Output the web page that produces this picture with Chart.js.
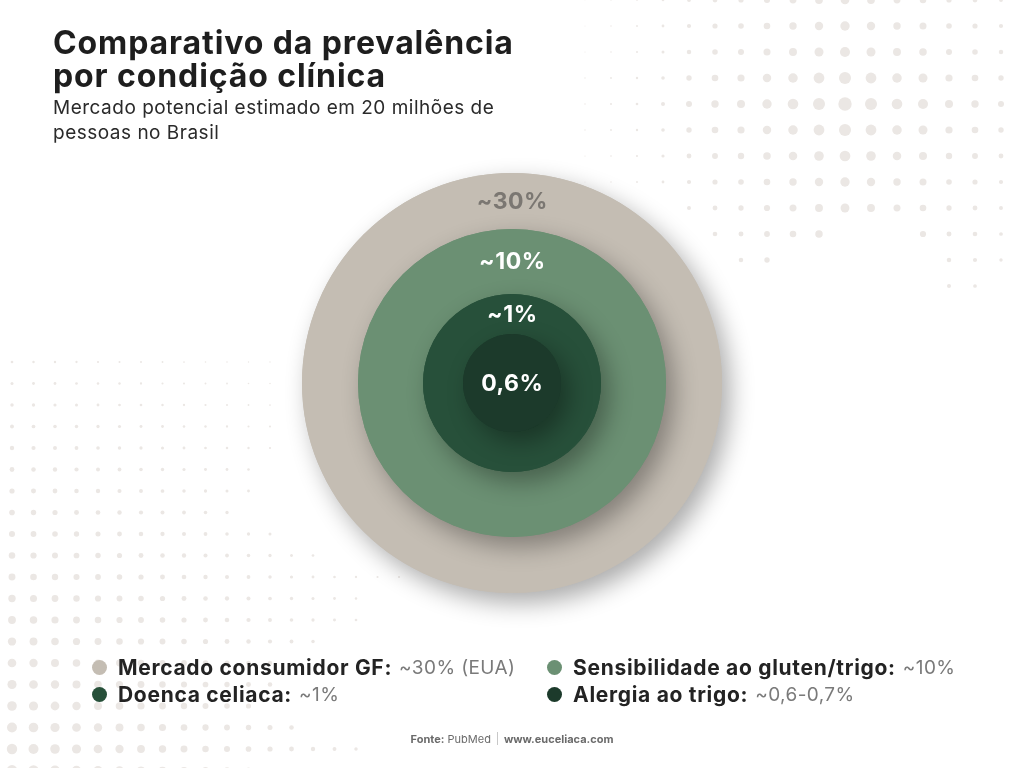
<!DOCTYPE html>
<html><head><meta charset="utf-8">
<script src="https://cdn.jsdelivr.net/npm/chart.js@4.4.1/dist/chart.umd.min.js"></script>
<style>
html,body{margin:0;padding:0;background:#fff;}
body{width:1024px;height:768px;position:relative;overflow:hidden;font-family:Inter,'Noto Sans',sans-serif;}
#wrap{position:absolute;left:0;top:0;width:1024px;height:768px;}
h1{position:absolute;left:53px;top:26px;margin:0;font-size:32px;font-weight:700;line-height:33px;color:#1e1e1e;letter-spacing:0.9px;white-space:nowrap}
.sub{position:absolute;left:53px;top:95px;font-size:19px;line-height:25px;color:#2a2a2a;letter-spacing:0.5px;white-space:nowrap}
.leg{position:absolute;display:flex;align-items:center;white-space:nowrap;height:24px}
.leg .dot{width:15px;height:15px;border-radius:50%;margin-right:11px;flex:none}
.leg b{font-size:21px;color:#232323;font-weight:700;letter-spacing:0.7px}
.leg .v{font-size:19px;color:#7a7a7a;margin-left:7px;letter-spacing:0.4px}
.foot{position:absolute;top:732px;left:0;width:1024px;text-align:center;font-size:11px;line-height:14px;color:#6a6a6a}
.foot .sep{display:inline-block;width:1px;height:13px;background:#c8c8c8;margin:0 6px;vertical-align:-2px}
</style></head>
<body>
<div id="wrap"><canvas id="c" width="1024" height="768"></canvas></div>
<h1>Comparativo da prevalência<br>por condição clínica</h1>
<div class="sub">Mercado potencial estimado em 20 milhões de<br>pessoas no Brasil</div>
<div id="legend"></div>
<div class="foot"><b>Fonte:</b> PubMed<span class="sep"></span><b>www.euceliaca.com</b></div>
<script>
// ---- data ----
const categories = ['Mercado consumidor GF', 'Sensibilidade ao gluten/trigo', 'Doenca celiaca', 'Alergia ao trigo'];
const prevalence = [30, 10, 1, 0.6];
const ringLabels = ['~30%', '~10%', '~1%', '0,6%'];
const legendValues = ['~30% (EUA)', '~10%', '~1%', '~0,6-0,7%'];

// ---- styles ----
const colors = ['#c4bdb3', '#6b9073', '#27503a', '#1c3a2b'];
const weights = [56, 65, 40, 49];
const labelColors = ['#7b7772', '#ffffff', '#ffffff', '#ffffff'];

// legend (HTML)
const legPos = [[92, 655], [547, 655], [92, 682], [547, 682]];
const legEl = document.getElementById('legend');
categories.forEach((c, i) => {
  const d = document.createElement('div');
  d.className = 'leg';
  d.style.left = legPos[i][0] + 'px';
  d.style.top = legPos[i][1] + 'px';
  d.innerHTML = '<span class="dot" style="background:' + colors[i] + '"></span><b>' + c + ':</b><span class="v">' + legendValues[i] + '</span>';
  legEl.appendChild(d);
});

// decorative halftone background
const bgDots = {
  id: 'bgDots',
  beforeDraw(chart) {
    const ctx = chart.ctx;
    ctx.save();
    ctx.fillStyle = '#fff';
    ctx.fillRect(0, 0, chart.width, chart.height);
    ctx.fillStyle = '#ebe7e4';
    const colR = [0.7, 1, 1.3, 2, 3, 3.7, 4, 4.7, 5.3, 6, 6.7, 6, 5.3, 5, 4, 3.7, 3];
    const rowF = [0.65, 0.7, 0.75, 0.9, 1, 0.9, 0.8, 0.7, 0.66, 0.62, 0.57, 0.5];
    const rowCols = {8: [0,4,5,6,7,8,9,10,11,12,13,14,15,16], 9: [5,6,7,8,9,13,14,15,16], 10: [6,7,14,15,16], 11: [14,15]};
    for (let i = 0; i < rowF.length; i++) {
      const cols = rowCols[i] || colR.map((_, j) => j);
      cols.forEach(j => {
        const x = 585 + 26 * j, y = 26 * i;
        const r = colR[j] * rowF[i];
        ctx.beginPath(); ctx.arc(x, y, r, 0, Math.PI * 2); ctx.fill();
      });
    }
    const ends = [290, 290, 269, 269, 269, 248, 248, 227, 269, 312, 398, 376, 355, 312, 269, 269, 248, 291, 376, 250];
    for (let i = 0; i < ends.length; i++) {
      const y = 362 + 21.5 * i;
      for (let x = 12; x <= ends[i] + 1; x += 21.5) {
        const t = (y - 362) / 386, s = Math.min((x - 12) / 300, 1.2);
        const r = (1.3 + 3.9 * t) * (1 - 0.58 * s);
        ctx.beginPath(); ctx.arc(x, y, Math.max(r, 0.6), 0, Math.PI * 2); ctx.fill();
      }
    }
    ctx.restore();
  }
};

// soft drop shadow: a full disc under each ring, then the ring itself on top
const shadows = {
  id: 'shadows',
  beforeDatasetDraw(chart, args) {
    const arc = chart.getDatasetMeta(args.index).data[0];
    if (!arc) return;
    const p = arc.getProps(['x', 'y', 'outerRadius'], true);
    const ctx = chart.ctx;
    ctx.save();
    ctx.shadowColor = 'rgba(0,0,0,0.33)';
    ctx.shadowBlur = 24;
    ctx.shadowOffsetX = 8;
    ctx.shadowOffsetY = 10;
    ctx.fillStyle = colors[args.index];
    ctx.beginPath(); ctx.arc(p.x, p.y, p.outerRadius, 0, Math.PI * 2); ctx.fill();
    ctx.restore();
  }
};

const ringText = {
  id: 'ringText',
  afterDatasetsDraw(chart) {
    const ctx = chart.ctx;
    ctx.save();
    ctx.textAlign = 'center';
    ctx.textBaseline = 'middle';
    ctx.font = '700 23px Inter, "Noto Sans", sans-serif';
    if ('letterSpacing' in ctx) ctx.letterSpacing = '0.5px';
    chart.data.datasets.forEach((ds, i) => {
      const arc = chart.getDatasetMeta(i).data[0];
      if (!arc) return;
      const p = arc.getProps(['x', 'y', 'innerRadius', 'outerRadius'], true);
      const mid = p.innerRadius > 0 ? (p.innerRadius + p.outerRadius) / 2 : 0;
      ctx.fillStyle = labelColors[i];
      ctx.fillText(ringLabels[i], p.x + 0.3, p.y - mid + 1);
    });
    ctx.restore();
  }
};

new Chart(document.getElementById('c'), {
  type: 'doughnut',
  data: {
    labels: categories,
    datasets: categories.map((c, i) => ({
      label: c,
      data: [prevalence[i]],
      backgroundColor: colors[i],
      borderWidth: 0,
      hoverBorderWidth: 0,
      hoverOffset: 0,
      offset: 0,
      weight: weights[i],
      order: categories.length - 1 - i,
      clip: false
    }))
  },
  options: {
    responsive: false,
    animation: false,
    events: [],
    cutout: 0,
    layout: { padding: { top: 173, bottom: 175, left: 0, right: 0 } },
    plugins: { legend: { display: false }, tooltip: { enabled: false }, title: { display: false } }
  },
  plugins: [bgDots, shadows, ringText]
});
</script>
</body></html>
